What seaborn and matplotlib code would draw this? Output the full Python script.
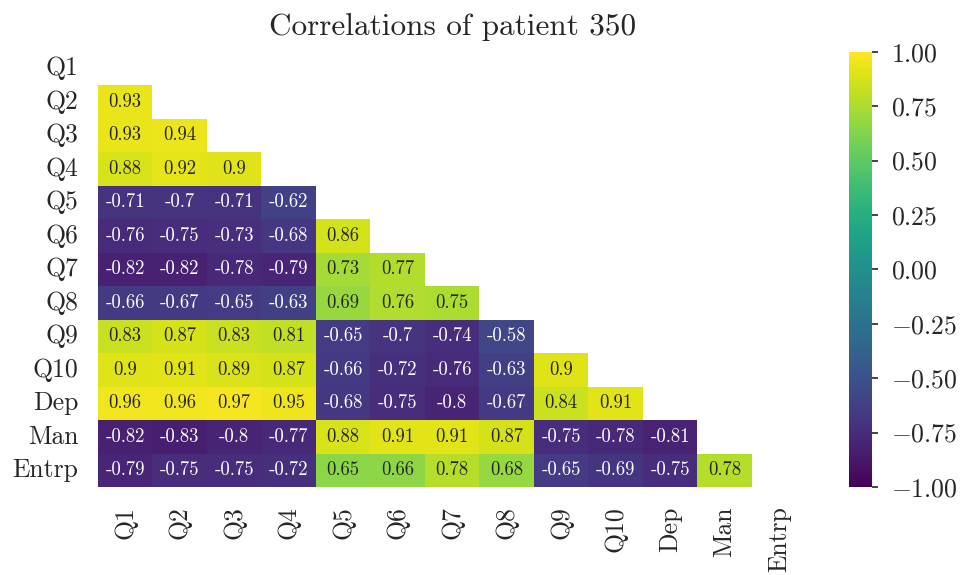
import numpy as np
import pandas as pd
import matplotlib
matplotlib.use("Agg")
import matplotlib.pyplot as plt
import seaborn as sns

sns.set_theme(style="white")
plt.rcParams["font.family"] = ["cmr10", "DejaVu Serif"]
plt.rcParams["mathtext.fontset"] = "cm"
plt.rcParams["axes.formatter.use_mathtext"] = True
plt.rcParams["axes.unicode_minus"] = True

labels = ["Q1", "Q2", "Q3", "Q4", "Q5", "Q6", "Q7", "Q8", "Q9", "Q10", "Dep", "Man", "Entrp"]

# lower-triangle correlations, row by row (row i holds columns 0..i-1)
lower_rows = [
    [],
    [0.93],
    [0.93, 0.94],
    [0.88, 0.92, 0.90],
    [-0.71, -0.70, -0.71, -0.62],
    [-0.76, -0.75, -0.73, -0.68, 0.86],
    [-0.82, -0.82, -0.78, -0.79, 0.73, 0.77],
    [-0.66, -0.67, -0.65, -0.63, 0.69, 0.76, 0.75],
    [0.83, 0.87, 0.83, 0.81, -0.65, -0.70, -0.74, -0.58],
    [0.90, 0.91, 0.89, 0.87, -0.66, -0.72, -0.76, -0.63, 0.90],
    [0.96, 0.96, 0.97, 0.95, -0.68, -0.75, -0.80, -0.67, 0.84, 0.91],
    [-0.82, -0.83, -0.80, -0.77, 0.88, 0.91, 0.91, 0.87, -0.75, -0.78, -0.81],
    [-0.79, -0.75, -0.75, -0.72, 0.65, 0.66, 0.78, 0.68, -0.65, -0.69, -0.75, 0.78],
]

n = len(labels)
corr = np.eye(n)
for i, row in enumerate(lower_rows):
    for j, v in enumerate(row):
        corr[i, j] = v
        corr[j, i] = v
corr_df = pd.DataFrame(corr, index=labels, columns=labels)
mask = np.triu(np.ones_like(corr, dtype=bool))

fig = plt.figure(figsize=(9.6, 5.75), dpi=100)
ax = fig.add_axes([0.102, 0.153, 0.738, 0.757])
cax = fig.add_axes([0.884, 0.153, 0.024, 0.757])

sns.heatmap(
    corr_df, mask=mask, cmap="viridis", vmin=-1, vmax=1,
    annot=True, fmt=".2g", annot_kws={"fontsize": 13.5},
    ax=ax, cbar_ax=cax,
)

ax.set_title("Correlations of patient 350", fontsize=22.5, pad=12)
ax.set_xticklabels(labels, rotation=90, fontsize=18.5)
ax.set_yticklabels(labels, rotation=0, fontsize=18.5)
ax.tick_params(axis="both", length=0, pad=14)

cax.set_yticks([-1.0, -0.75, -0.5, -0.25, 0.0, 0.25, 0.5, 0.75, 1.0])
cax.yaxis.set_major_formatter(matplotlib.ticker.FormatStrFormatter("$%.2f$"))
cax.tick_params(axis="y", right=True, length=4, width=1.2, color="#262626",
                labelsize=18.5, pad=10)

fig.savefig("out.png", dpi=100)
